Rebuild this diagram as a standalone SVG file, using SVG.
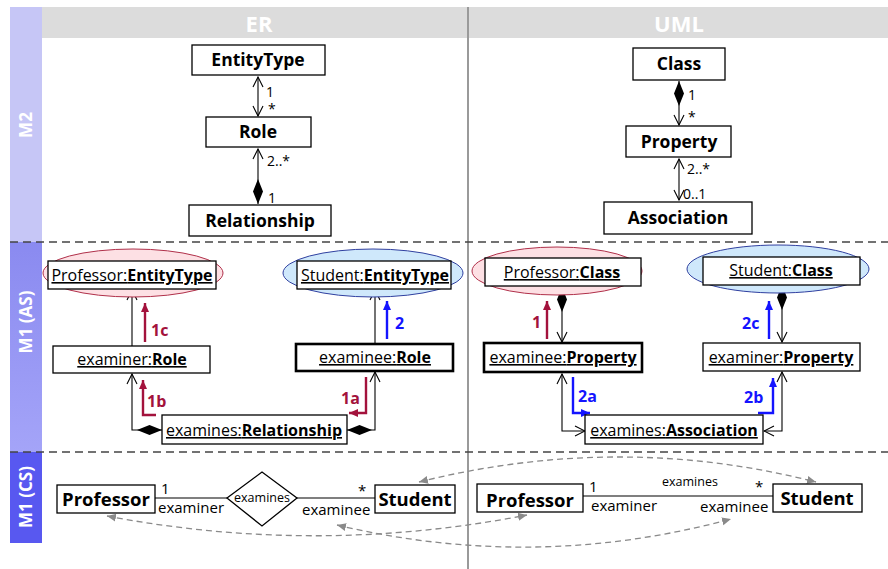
<svg xmlns="http://www.w3.org/2000/svg" width="888" height="569" viewBox="0 0 888 569">
  <style>
    text { font-family: "Open Sans", "Noto Sans", "DejaVu Sans", sans-serif; fill: #000; }
    .box { fill: #fff; stroke: #000; stroke-width: 1.3; }
    .thick { fill: #fff; stroke: #000; stroke-width: 2.6; }
    .m2 { font-size: 17.5px; font-weight: bold; text-anchor: middle; }
    .inst { font-size: 16px; text-anchor: middle; text-decoration: underline; }
    .b { font-weight: bold; }
    .mult { font-size: 14px; }
    .cs { font-size: 18.5px; font-weight: bold; text-anchor: middle; }
    .role { font-size: 15px; }
    .hdr { font-size: 22px; font-weight: bold; fill: #fff; text-anchor: middle; }
    .side { font-size: 17px; font-weight: bold; fill: #fff; text-anchor: middle; }
    .conn { fill: none; stroke: #000; stroke-width: 1.1; }
    .red { fill: none; stroke: #a3123c; stroke-width: 2.4; }
    .blue { fill: none; stroke: #1414ff; stroke-width: 2.4; }
    .redt { font-size: 16px; font-weight: bold; fill: #a3123c; }
    .bluet { font-size: 16px; font-weight: bold; fill: #1414ff; }
    .map { fill: none; stroke: #8a8a8a; stroke-width: 1.3; stroke-dasharray: 6 4; }
    .pink { fill: #fde0e4; stroke: #b0304a; stroke-width: 1; }
    .sky { fill: #cfe8fb; stroke: #3040a0; stroke-width: 1; }
  </style>
  <defs>
    <marker id="open" viewBox="0 0 12 12" refX="11" refY="6" markerWidth="12" markerHeight="12" markerUnits="userSpaceOnUse" orient="auto-start-reverse">
      <path d="M1,1 L11,6 L1,11" fill="none" stroke="#000" stroke-width="1.1"/>
    </marker>
    <marker id="diamond" viewBox="0 0 26 12" refX="0.5" refY="6" markerWidth="26" markerHeight="12" markerUnits="userSpaceOnUse" orient="auto">
      <path d="M0.5,6 L13,1 L25.5,6 L13,11 Z" fill="#000"/>
    </marker>
    <marker id="redHead" viewBox="0 0 10 10" refX="9" refY="5" markerWidth="10" markerHeight="10" markerUnits="userSpaceOnUse" orient="auto">
      <path d="M0,1 L9,5 L0,9 Z" fill="#a3123c"/>
    </marker>
    <marker id="blueHead" viewBox="0 0 10 10" refX="9" refY="5" markerWidth="10" markerHeight="10" markerUnits="userSpaceOnUse" orient="auto">
      <path d="M0,1 L9,5 L0,9 Z" fill="#1414ff"/>
    </marker>
    <marker id="grayHead" viewBox="0 0 10 10" refX="9" refY="5" markerWidth="10" markerHeight="10" markerUnits="userSpaceOnUse" orient="auto-start-reverse">
      <path d="M0,1 L9,5 L0,9 Z" fill="#8a8a8a"/>
    </marker>
    <linearGradient id="asBand" x1="0" y1="0" x2="0" y2="1">
      <stop offset="0" stop-color="#8a8af0"/>
      <stop offset="1" stop-color="#a4a4f8"/>
    </linearGradient>
  </defs>

  <rect width="888" height="569" fill="#fff"/>

  <!-- level bands and column headers -->
  <g id="frame">
    <rect x="10" y="7" width="32" height="235" fill="#c6c6f6"/>
    <rect x="10" y="242" width="32" height="210" fill="url(#asBand)"/>
    <rect x="10" y="452" width="32" height="91" fill="#5858f0"/>
    <text class="side" transform="translate(32,125) rotate(-90)">M2</text>
    <text class="side" transform="translate(32,322) rotate(-90)">M1 (AS)</text>
    <text class="side" transform="translate(32,497) rotate(-90)">M1 (CS)</text>
    <rect x="42" y="7" width="846" height="31" fill="#dcdcdc"/>
    <text class="hdr" x="259" y="32">ER</text>
    <text class="hdr" x="679" y="32">UML</text>
    <line x1="468" y1="7" x2="468" y2="569" stroke="#9a9a9a" stroke-width="2"/>
    <line x1="10" y1="242" x2="888" y2="242" stroke="#444" stroke-width="1.6" stroke-dasharray="8 5"/>
    <line x1="10" y1="452" x2="888" y2="452" stroke="#444" stroke-width="1.6" stroke-dasharray="8 5"/>
  </g>

  <!-- connectors -->
  <g id="connectors">
    <!-- M2 ER -->
    <path class="conn" d="M258,77 V116" marker-start="url(#open)" marker-end="url(#open)"/>
    <path class="conn" d="M258,204 V149" marker-start="url(#diamond)" marker-end="url(#open)"/>
    <!-- M2 UML -->
    <path class="conn" d="M679,81 V125" marker-start="url(#diamond)" marker-end="url(#open)"/>
    <path class="conn" d="M679,159 V200" marker-start="url(#open)" marker-end="url(#open)"/>
    <!-- M1 AS, ER side -->
    <path class="conn" d="M132,346 V290" marker-end="url(#open)"/>
    <path class="conn" d="M162,430 H132 V374" marker-start="url(#diamond)" marker-end="url(#open)"/>
    <path class="conn" d="M375,343 V290" marker-end="url(#open)"/>
    <path class="conn" d="M347,430 H375 V372" marker-start="url(#diamond)" marker-end="url(#open)"/>
    <path class="red" d="M145,342 V303" marker-end="url(#redHead)"/>
    <path class="red" d="M156,415 H143 V380" marker-end="url(#redHead)"/>
    <path class="red" d="M366,377 V413 H349" marker-end="url(#redHead)"/>
    <path class="blue" d="M387,339 V301" marker-end="url(#blueHead)"/>
    <!-- M1 AS, UML side -->
    <path class="conn" d="M562,287 V342" marker-start="url(#diamond)" marker-end="url(#open)"/>
    <path class="conn" d="M585,431 H562 V374" marker-start="url(#open)" marker-end="url(#open)"/>
    <path class="conn" d="M782,285 V342" marker-start="url(#diamond)" marker-end="url(#open)"/>
    <path class="conn" d="M764,431 H782 V372" marker-start="url(#open)" marker-end="url(#open)"/>
    <path class="red" d="M547,339 V301" marker-end="url(#redHead)"/>
    <path class="blue" d="M573,377 V413 H590" marker-end="url(#blueHead)"/>
    <path class="blue" d="M769,339 V301" marker-end="url(#blueHead)"/>
    <path class="blue" d="M758,413 H773 V378" marker-end="url(#blueHead)"/>
    <!-- M1 CS -->
    <path class="conn" d="M155,498 H227 M297,498 H375"/>
    <path class="conn" d="M583,496 H773"/>
    <!-- correspondences between the two concrete syntaxes -->
    <path class="map" d="M419,482 Q620,432 816,482" marker-start="url(#grayHead)" marker-end="url(#grayHead)"/>
    <path class="map" d="M107,516 Q317,556 527,515" marker-start="url(#grayHead)" marker-end="url(#grayHead)"/>
    <path class="map" d="M337,525 Q535,572 731,519" marker-start="url(#grayHead)" marker-end="url(#grayHead)"/>
  </g>

  <!-- M2 ER metamodel -->
  <g id="er-entitytype">
    <rect class="box" x="192" y="45" width="133" height="30"/>
    <text class="m2" x="258" y="66">EntityType</text>
  </g>
  <g id="er-role">
    <rect class="box" x="206" y="117" width="105" height="30"/>
    <text class="m2" x="258" y="138">Role</text>
  </g>
  <g id="er-relationship">
    <rect class="box" x="189" y="205" width="142" height="31"/>
    <text class="m2" x="260" y="227">Relationship</text>
  </g>
  <g id="er-mult">
    <text class="mult" x="266" y="97">1</text>
    <text class="mult" x="268" y="114">*</text>
    <text class="mult" x="267" y="166">2..*</text>
    <text class="mult" x="268" y="203">1</text>
  </g>

  <!-- M2 UML metamodel -->
  <g id="uml-class">
    <rect class="box" x="633" y="48" width="92" height="32"/>
    <text class="m2" x="679" y="70">Class</text>
  </g>
  <g id="uml-property">
    <rect class="box" x="626" y="126" width="105" height="31"/>
    <text class="m2" x="679" y="148">Property</text>
  </g>
  <g id="uml-association">
    <rect class="box" x="604" y="202" width="148" height="32"/>
    <text class="m2" x="678" y="224">Association</text>
  </g>
  <g id="uml-mult">
    <text class="mult" x="688" y="100">1</text>
    <text class="mult" x="688" y="122">*</text>
    <text class="mult" x="687" y="174">2..*</text>
    <text class="mult" x="683" y="199">0..1</text>
  </g>

  <!-- M1 abstract syntax, ER side -->
  <g id="as-professor-entitytype">
    <ellipse class="pink" cx="133" cy="273" rx="90" ry="24"/>
    <rect class="box" x="48" y="261" width="168" height="28"/>
    <text class="inst" x="132" y="281">Professor:<tspan class="b">EntityType</tspan></text>
  </g>
  <g id="as-student-entitytype">
    <ellipse class="sky" cx="373" cy="273" rx="90" ry="24"/>
    <rect class="box" x="297" y="261" width="154" height="28"/>
    <text class="inst" x="375" y="281">Student:<tspan class="b">EntityType</tspan></text>
  </g>
  <g id="as-examiner-role">
    <rect class="box" x="53" y="346" width="157" height="27"/>
    <text class="inst" x="132" y="365">examiner:<tspan class="b">Role</tspan></text>
  </g>
  <g id="as-examinee-role">
    <rect class="thick" x="296" y="344" width="157" height="27"/>
    <text class="inst" x="375" y="363">examinee:<tspan class="b">Role</tspan></text>
  </g>
  <g id="as-examines-relationship">
    <rect class="box" x="162" y="415" width="185" height="29"/>
    <text class="inst" x="254" y="436">examines:<tspan class="b">Relationship</tspan></text>
  </g>
  <g id="as-er-steps">
    <text class="redt" x="151" y="336">1c</text>
    <text class="redt" x="147" y="407">1b</text>
    <text class="redt" x="341" y="404">1a</text>
    <text class="bluet" x="395" y="329">2</text>
  </g>

  <!-- M1 abstract syntax, UML side -->
  <g id="as-professor-class">
    <ellipse class="pink" cx="557" cy="271" rx="85" ry="24"/>
    <rect class="box" x="485" y="258" width="156" height="28"/>
    <text class="inst" x="562" y="278">Professor:<tspan class="b">Class</tspan></text>
  </g>
  <g id="as-student-class">
    <ellipse class="sky" cx="778" cy="269" rx="91" ry="24"/>
    <rect class="box" x="703" y="257" width="157" height="28"/>
    <text class="inst" x="781" y="276">Student:<tspan class="b">Class</tspan></text>
  </g>
  <g id="as-examinee-property">
    <rect class="thick" x="484" y="343" width="158" height="29"/>
    <text class="inst" x="563" y="363">examinee:<tspan class="b">Property</tspan></text>
  </g>
  <g id="as-examiner-property">
    <rect class="box" x="703" y="343" width="157" height="28"/>
    <text class="inst" x="781" y="363">examiner:<tspan class="b">Property</tspan></text>
  </g>
  <g id="as-examines-association">
    <rect class="box" x="585" y="415" width="178" height="29"/>
    <text class="inst" x="674" y="436">examines:<tspan class="b">Association</tspan></text>
  </g>
  <g id="as-uml-steps">
    <text class="redt" x="532" y="328">1</text>
    <text class="bluet" x="578" y="402">2a</text>
    <text class="bluet" x="742" y="329">2c</text>
    <text class="bluet" x="744" y="403">2b</text>
  </g>

  <!-- M1 concrete syntax, ER notation -->
  <g id="cs-er-professor">
    <rect class="box" x="57" y="485" width="98" height="28"/>
    <text class="cs" x="106" y="506">Professor</text>
  </g>
  <g id="cs-er-examines">
    <polygon points="227,498 262,472 297,498 262,526" fill="#fff" stroke="#000" stroke-width="1.3"/>
    <text x="262" y="502" font-size="12.5" text-anchor="middle">examines</text>
  </g>
  <g id="cs-er-student">
    <rect class="box" x="375" y="485" width="80" height="28"/>
    <text class="cs" x="415" y="506">Student</text>
  </g>
  <g id="cs-er-labels">
    <text class="role" x="161" y="494">1</text>
    <text class="role" x="158" y="513">examiner</text>
    <text class="role" x="358" y="496">*</text>
    <text class="role" x="302" y="515">examinee</text>
  </g>

  <!-- M1 concrete syntax, UML notation -->
  <g id="cs-uml-professor">
    <rect class="box" x="477" y="484" width="106" height="28"/>
    <text class="cs" x="530" y="507">Professor</text>
  </g>
  <g id="cs-uml-student">
    <rect class="box" x="773" y="484" width="89" height="28"/>
    <text class="cs" x="817" y="505">Student</text>
  </g>
  <g id="cs-uml-labels">
    <text class="role" x="589" y="492">1</text>
    <text class="role" x="591" y="511">examiner</text>
    <text x="662" y="486" font-size="12.5">examines</text>
    <text class="role" x="755" y="492">*</text>
    <text class="role" x="700" y="512">examinee</text>
  </g>
</svg>
